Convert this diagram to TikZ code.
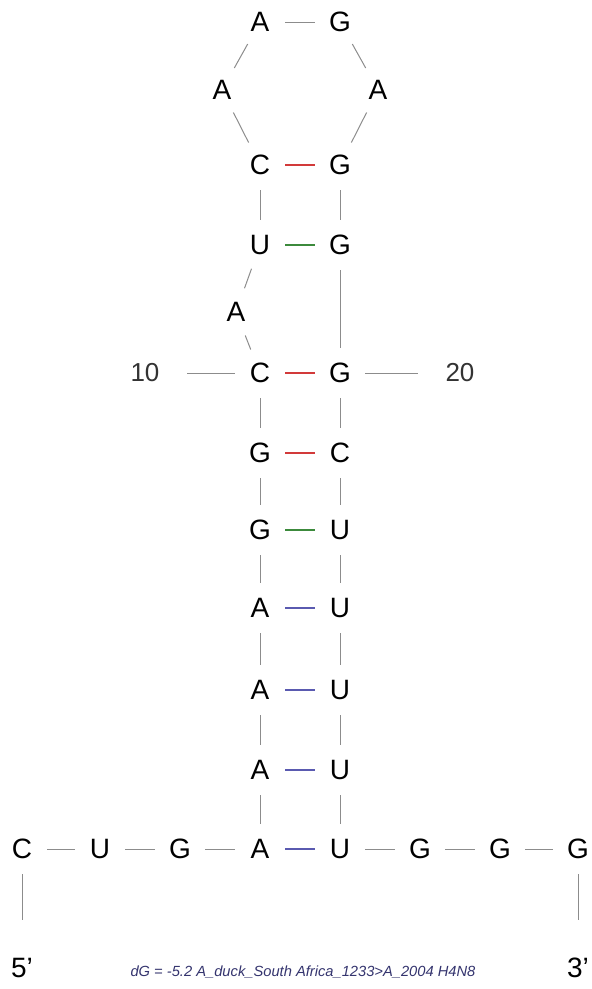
\documentclass[tikz,border=0pt]{standalone}
\usepackage{fontspec}
\setmainfont{Liberation Sans}
\usepackage{xcolor}
\usetikzlibrary{positioning}
\definecolor{bbgray}{HTML}{8C8C8C}
\definecolor{gcred}{HTML}{D23A3A}
\definecolor{gugreen}{HTML}{3C8A3C}
\definecolor{aublue}{HTML}{5A5AB0}
\definecolor{capblue}{HTML}{34346E}

\begin{document}
\begin{tikzpicture}[
    x=1pt, y=-1pt,
    base/.style={circle, minimum size=50pt, inner sep=0pt, font=\fontsize{28}{30}\selectfont},
    tag/.style={rectangle, inner sep=0pt, minimum width=84pt, minimum height=30pt, font=\fontsize{26}{28}\selectfont, text=black!80},
    endtag/.style={rectangle, inner sep=0pt, minimum width=30pt, minimum height=96pt, font=\fontsize{28}{30}\selectfont},
    bb/.style={draw=bbgray, line width=1pt},
    gc/.style={draw=gcred, line width=1.2pt},
    gu/.style={draw=gugreen, line width=1.2pt},
    au/.style={draw=aublue, line width=1.2pt},
]
\useasboundingbox (0,0) rectangle (592,989);

% 5' strand
\node[base] (n1) at (22,849) {C};
\node[base] (n2) at (100,849) {U};
\node[base] (n3) at (180,849) {G};
\node[base] (n4) at (260,849) {A};
\node[base] (n5) at (260,770) {A};
\node[base] (n6) at (260,690) {A};
\node[base] (n7) at (260,608) {A};
\node[base] (n8) at (260,530) {G};
\node[base] (n9) at (260,453) {G};
\node[base] (n10) at (260,373) {C};
\node[base] (n11) at (236,312) {A};
\node[base] (n12) at (260,245) {U};
\node[base] (n13) at (260,165) {C};

% Loop
\node[base] (n14) at (222,90) {A};
\node[base] (n15) at (260,22) {A};
\node[base] (n16) at (340,22) {G};
\node[base] (n17) at (378,90) {A};

% 3' strand
\node[base] (n18) at (340,165) {G};
\node[base] (n19) at (340,245) {G};
\node[base] (n20) at (340,373) {G};
\node[base] (n21) at (340,453) {C};
\node[base] (n22) at (340,530) {U};
\node[base] (n23) at (340,608) {U};
\node[base] (n24) at (340,690) {U};
\node[base] (n25) at (340,770) {U};
\node[base] (n26) at (340,849) {U};
\node[base] (n27) at (420,849) {G};
\node[base] (n28) at (500,849) {G};
\node[base] (n29) at (578,849) {G};

% Position marks and ends
\node[tag] (pos10) at (145,373) {10};
\node[tag] (pos20) at (460,373) {20};
\node[endtag] (five) at (22,968) {5’};
\node[endtag] (three) at (578,968) {3’};
\node[font=\fontsize{14.7}{16}\selectfont\itshape, text=capblue] (caption) at (303,972)
    {dG = -5.2 A\_duck\_South Africa\_1233>A\_2004 H4N8};

% Backbone
\foreach \i in {1,...,28} {
    \pgfmathtruncatemacro{\j}{\i+1}
    \draw[bb] (n\i) -- (n\j);
}
\draw[bb] (pos10) -- (n10);
\draw[bb] (n20) -- (pos20);
\draw[bb] (n1) -- (five);
\draw[bb] (n29) -- (three);

% Base pairs
\draw[gc] (n13) -- (n18);
\draw[gu] (n12) -- (n19);
\draw[gc] (n10) -- (n20);
\draw[gc] (n9) -- (n21);
\draw[gu] (n8) -- (n22);
\draw[au] (n7) -- (n23);
\draw[au] (n6) -- (n24);
\draw[au] (n5) -- (n25);
\draw[au] (n4) -- (n26);
\end{tikzpicture}
\end{document}
